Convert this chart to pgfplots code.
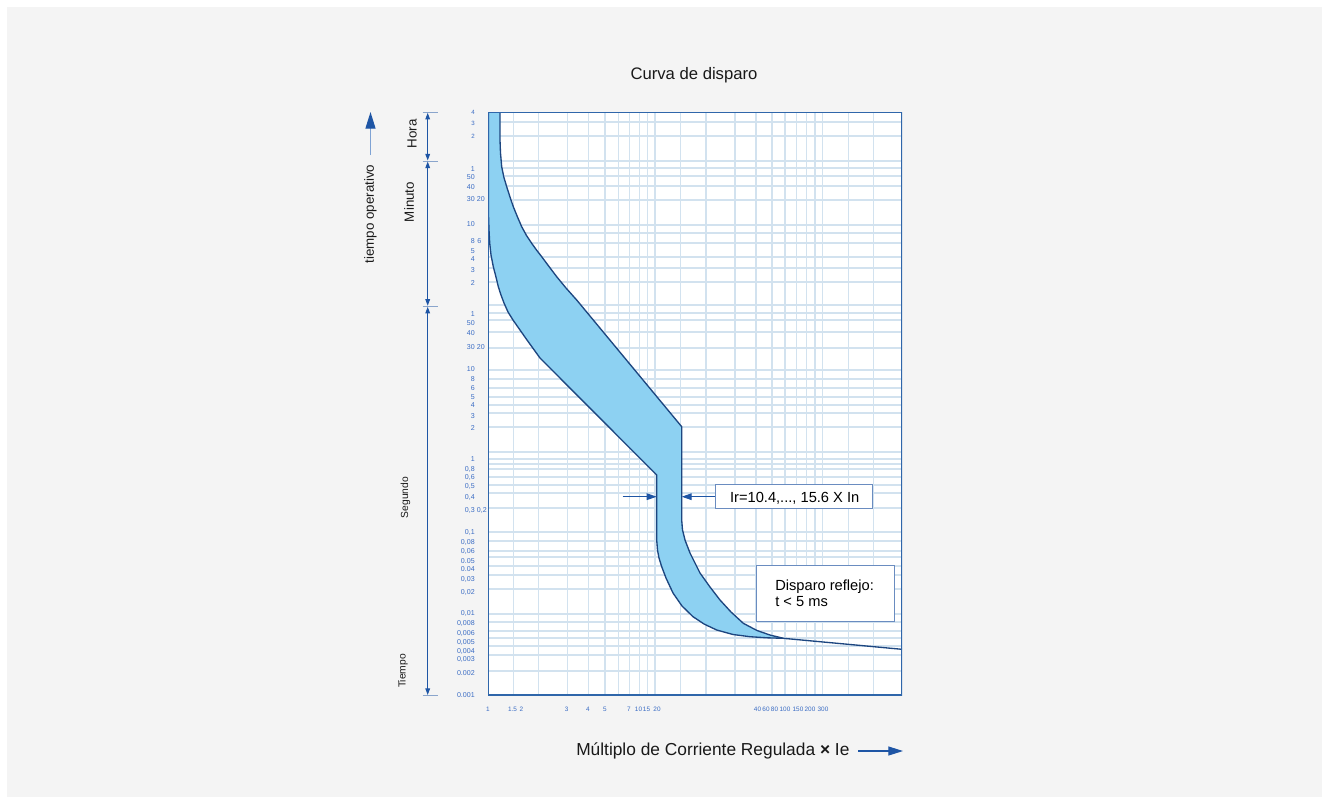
\documentclass[border=0pt]{standalone}
\usepackage{fontspec}
\setmainfont{Liberation Sans}
\usepackage{pgfplots}
\pgfplotsset{compat=1.18}
\usetikzlibrary{arrows.meta}

\definecolor{pagebg}{HTML}{F4F4F4}
\definecolor{gridblue}{HTML}{D2E2EF}
\definecolor{frameblue}{HTML}{2F66AA}
\definecolor{ticktext}{HTML}{3A6CC4}
\definecolor{bandfill}{HTML}{8DD1F2}
\definecolor{bandline}{HTML}{1D4680}
\definecolor{arrowblue}{HTML}{1E55A5}
\definecolor{boxline}{HTML}{6A8CC0}
\definecolor{bracketgray}{HTML}{8AA5CC}
\definecolor{paleline}{HTML}{7FA3D4}

\newcommand{\tinylab}{\fontsize{4.6}{5}\selectfont}

\begin{document}
\begin{tikzpicture}
% page background (units: 1 = one pixel of a 1329 x 804 sheet)
\begin{scope}[x=0.75pt,y=-0.75pt]
  \fill[white] (0,0) rectangle (1329,804);
  \fill[pagebg] (7,7) rectangle (1322,797);
\end{scope}

\begin{axis}[
  at={(366pt,-521.25pt)}, anchor=south west,
  scale only axis, width=310.5pt, height=437.25pt,
  xmin=0, xmax=414, ymin=0, ymax=583,
  axis line style={draw=none},
  axis background/.style={fill=white},
  major tick length=0pt, minor tick length=0pt,
  tick style={draw=none},
  grid style={draw=gridblue, line width=0.8pt},
  % printed current multiples
  xtick={0,24.5,33.5,78.7,100,117,141,150.5,158.5,169,269.5,278,286.5,297,310,322,335},
  xticklabels={1,1.5,2,3,4,5,7,10,15,20,40,60,80,100,150,200,300},
  xticklabel style={anchor=north, inner sep=0pt, yshift=-9pt,
    font=\fontsize{4.8}{5.5}\selectfont, text=ticktext},
  % printed operating times
  ytick={583,572,559,526,518,508,496,471,454,444,436,425,412,381,372,362,348,326,316,307,298,290,279,267,236,226,218,209,198,185,163,153,144,134,126,116,103,82,72,62,53,44,36,22,0},
  yticklabels={{\tinylab 4},{\tinylab 3},{\tinylab 2},
    {1},{50},{40},{30\rlap{\hspace{1.6pt}20}},{10},{8\rlap{\hspace{2pt}6}},{5},{4},{3},{2},
    {1},{50},{40},{30\rlap{\hspace{1.6pt}20}},{10},{8},{6},{5},{4},{3},{2},
    {1},{0,8},{0,6},{0,5},{0,4},{0,3\rlap{\hspace{1.6pt}0,2}},
    {0,1},{0,08},{0,06},{0.05},{0.04},{0,03},{0,02},
    {0,01},{0,008},{0,006},{0,005},{0,004},{0,003},{0.002},{0.001}},
  yticklabel style={anchor=east, inner sep=0pt, xshift=-9.75pt,
    font=\fontsize{5.3}{6}\selectfont, text=ticktext},
  % chart paper rulings
  extra x ticks={25.3,50.3,79.7,100.3,117,130.3,141.3,151.3,159.3,167,192.7,218,247,268,284,297,308.7,318.7,327,334.7,360.3,385.3},
  extra x tick labels={},
  extra y ticks={573,559,534,527,519,509,495,470,462,452,438,427,413,390,382,375,363,347,325,316,307,298,290,282,268,243,236,231,226,218,210,202,187,163,154,144,138,129,120,106,81,73,64,57,49,40,24},
  extra y tick labels={},
  extra tick style={grid=major},
]

% tripping band between the two characteristic limits
\addplot[fill=bandfill, draw=none] coordinates {
  (12,583) (12,555) (12.5,542) (13.7,528.3) (15.8,518) (18.7,508.3) (22,498)
  (25.3,488.3) (29.5,478) (33.7,468.3) (38.5,459.5) (43.7,451.7) (48.5,445)
  (53.7,438.3) (61,428.5) (68.7,418.3) (78,407) (88.7,395) (193.7,268.3)
  (193.7,175) (194.5,165) (197,155) (202,142) (207,132) (212,122) (222,108)
  (232,95) (243,83) (255.3,71.7) (269,64.5) (282,60) (295.3,56.7)
  (279,57.2) (262,58.3) (245,60.5) (228.7,65) (216,71) (205,78.3) (194,89)
  (185,102) (178,117) (173.7,128.3) (171,137) (169.5,145) (168.7,155)
  (168.7,220) (52,337) (45.5,346) (39,355) (32,365) (25,375) (20,383)
  (16,392) (13,400) (10.3,408.3) (8,418) (5.3,428.3) (3,440) (1.7,452)
  (1,465) (0.5,480) (0.5,583)
} -- cycle;

% upper limit
\addplot[bandline, line width=1pt] coordinates {
  (12,583) (12,555) (12.5,542) (13.7,528.3) (15.8,518) (18.7,508.3) (22,498)
  (25.3,488.3) (29.5,478) (33.7,468.3) (38.5,459.5) (43.7,451.7) (48.5,445)
  (53.7,438.3) (61,428.5) (68.7,418.3) (78,407) (88.7,395) (193.7,268.3)
  (193.7,175) (194.5,165) (197,155) (202,142) (207,132) (212,122) (222,108)
  (232,95) (243,83) (255.3,71.7) (269,64.5) (282,60) (295.3,56.7)
};

% lower limit and instantaneous tail
\addplot[bandline, line width=1pt] coordinates {
  (0.5,583) (0.5,480) (1,465) (1.7,452) (3,440) (5.3,428.3) (8,418)
  (10.3,408.3) (13,400) (16,392) (20,383) (25,375) (32,365) (39,355)
  (45.5,346) (52,337) (168.7,220) (168.7,155) (169.5,145) (171,137)
  (173.7,128.3) (178,117) (185,102) (194,89) (205,78.3) (216,71) (228.7,65)
  (245,60.5) (262,58.3) (279,57.2) (295.3,56.7) (414,45.7)
};

% setting range callout
\draw[arrowblue, line width=0.75pt, -{Triangle[length=7.5pt,width=5pt]}]
  (axis cs:134.7,198.3) -- (axis cs:168.7,198.3);
\draw[arrowblue, line width=0.75pt, -{Triangle[length=7.5pt,width=5pt]}]
  (axis cs:227.7,198.3) -- (axis cs:193.7,198.3);
\draw[boxline, line width=0.75pt, fill=white]
  (axis cs:227.7,186.7) rectangle (axis cs:384.7,211);
\node[anchor=base, inner sep=0pt, font=\fontsize{11}{13}\selectfont]
  at (axis cs:306.7,192.7) {Ir=10.4,..., 15.6 X In};

% instantaneous trip callout
\draw[boxline, line width=0.75pt, fill=white]
  (axis cs:268,73.3) rectangle (axis cs:406.3,129.3);
\node[anchor=base west, inner sep=0pt, font=\fontsize{11}{13}\selectfont]
  at (axis cs:287,105) {Disparo reflejo:};
\node[anchor=base west, inner sep=0pt, font=\fontsize{11}{13}\selectfont]
  at (axis cs:287,88.3) {t < 5 ms};

% frame
\draw[frameblue, line width=1.6pt] (rel axis cs:0,0) rectangle (rel axis cs:1,1);
\end{axis}

% titles, time scale brackets and direction arrows
\begin{scope}[x=0.75pt,y=-0.75pt]
  \node[anchor=base, inner sep=0pt, font=\fontsize{12.5}{14}\selectfont, text=black!90]
    at (694,79) {Curva de disparo};
  \node[anchor=base west, inner sep=0pt, font=\fontsize{13}{15}\selectfont, text=black!90]
    at (576,755) {Múltiplo de Corriente Regulada \textbf{×} Ie};
  \draw[arrowblue, line width=0.8pt, -{Triangle[length=11pt,width=6.75pt]}]
    (858,751) -- (903,751);

  \draw[paleline, line width=1pt, -{Triangle[length=12.5pt,width=7.5pt,color=arrowblue]}]
    (370.5,155) -- (370.5,112);
  \node[rotate=90, inner sep=0pt, font=\fontsize{10}{12}\selectfont, text=black!90]
    at (370.5,214) {tiempo operativo};

  \foreach \yy in {112.3,161,306.3,695.5}
    \draw[bracketgray, line width=0.75pt] (422.5,\yy) -- (437.5,\yy);
  \draw[arrowblue, line width=0.8pt,
        {Triangle[length=5pt,width=3.5pt]}-{Triangle[length=5pt,width=3.5pt]}]
    (427.7,112.8) -- (427.7,160.5);
  \draw[arrowblue, line width=0.8pt,
        {Triangle[length=5pt,width=3.5pt]}-{Triangle[length=5pt,width=3.5pt]}]
    (427.7,161.5) -- (427.7,305.8);
  \draw[arrowblue, line width=0.8pt,
        {Triangle[length=5pt,width=3.5pt]}-{Triangle[length=5pt,width=3.5pt]}]
    (427.7,306.8) -- (427.7,695);

  \node[rotate=90, inner sep=0pt, font=\fontsize{10}{12}\selectfont, text=black!90]
    at (412,134) {Hora};
  \node[rotate=90, inner sep=0pt, font=\fontsize{10}{12}\selectfont, text=black!90]
    at (409,202) {Minuto};
  \node[rotate=90, inner sep=0pt, font=\fontsize{7.7}{9}\selectfont, text=black!90]
    at (405.5,497.5) {Segundo};
  \node[rotate=90, inner sep=0pt, font=\fontsize{7.7}{9}\selectfont, text=black!90]
    at (403,671) {Tiempo};
\end{scope}
\end{tikzpicture}
\end{document}
